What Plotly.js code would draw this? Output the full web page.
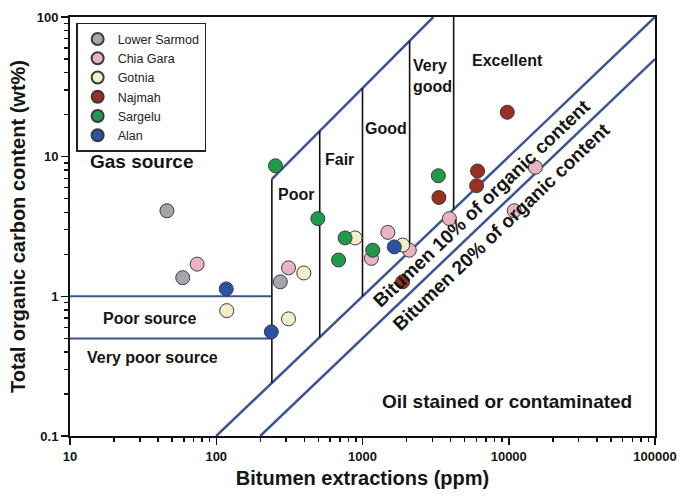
<!DOCTYPE html>
<html>
<head>
<meta charset="utf-8">
<script src="https://cdn.plot.ly/plotly-3.0.1.min.js"></script>
<style>html,body{margin:0;padding:0;background:#fff;}#chart{width:686px;height:500px;}</style>
</head>
<body>
<div id="chart"></div>
<script>
// ---- Data (Bitumen ppm, TOC wt%) ----
const lowerSarmodBit = [46, 59, 274];
const lowerSarmodTOC = [4.1, 1.36, 1.27];
const chiaGaraBit = [74, 312, 1490, 1150, 2090, 3930, 10900, 15200];
const chiaGaraTOC = [1.7, 1.6, 2.87, 1.87, 2.14, 3.6, 4.1, 8.4];
const gotniaBit = [118, 312, 397, 890, 1880];
const gotniaTOC = [0.79, 0.69, 1.47, 2.62, 2.33];
const najmahBit = [1880, 3330, 6120, 6030, 9770];
const najmahTOC = [1.27, 5.1, 7.9, 6.2, 20.8];
const sargeluBit = [254, 495, 760, 686, 1175, 3300];
const sargeluTOC = [8.6, 3.6, 2.62, 1.82, 2.14, 7.3];
const alanBit = [117, 238, 1650];
const alanTOC = [1.13, 0.557, 2.26];

const seriesNames = ["Lower Sarmod", "Chia Gara", "Gotnia", "Najmah", "Sargelu", "Alan"];

// ---- Classification boundaries ----
const classBounds = [240, 510, 1000, 2100, 4200];      // bitumen ppm of zone edges
const gasLineBit = [240, 3050];                          // upper (gas source) line
const gasLineTOC = [6.9, 100];
const oil10Bit = [100, 100000], oil10TOC = [0.1, 100];   // bitumen 10% of organic content
const oil20Bit = [200, 100000], oil20TOC = [0.1, 50];    // bitumen 20% of organic content
const poorTOC = [1, 0.5];                                // poor / very poor source limits
const poorBitRange = [10, 240];

// ---- Axis ticks ----
const xTickVals = [10, 100, 1000, 10000, 100000];
const xTickText = ["10", "100", "1000", "10000", "100000"];
const yTickVals = [0.1, 1, 10, 100];
const yTickText = ["0.1", "1", "10", "100"];

// ---- Styles ----
const colors = ["#a3a6aa", "#e8b4c4", "#f4eec6", "#9a3023", "#1f9a4c", "#2c50a3"];
const blueLine = "#3a5690";

function minorVals(lo, hi) {
  const out = [];
  for (let d = lo; d < hi; d++) for (let m = 2; m <= 9; m++) out.push(m * Math.pow(10, d));
  return out;
}

// vertical zone lines: from gas line (clipped at 100) down to 10% line
const lgA = Math.log10(gasLineBit[0]), lgB = Math.log10(gasLineBit[1]);
const ltA = Math.log10(gasLineTOC[0]), ltB = Math.log10(gasLineTOC[1]);
function gasTOC(b) {
  const t = ltA + (Math.log10(b) - lgA) * (ltB - ltA) / (lgB - lgA);
  return Math.min(100, Math.pow(10, t));
}
function oil10At(b) { return oil10TOC[0] * b / oil10Bit[0]; }
const vx = [], vy = [];
classBounds.forEach(b => { vx.push(b, b, null); vy.push(gasTOC(b), oil10At(b), null); });

const hx = [], hy = [];
poorTOC.forEach(t => { hx.push(poorBitRange[0], poorBitRange[1], null); hy.push(t, t, null); });

const traces = [
  {x: gasLineBit, y: gasLineTOC, mode: "lines", line: {color: blueLine, width: 2.5}, showlegend: false, hoverinfo: "skip"},
  {x: oil10Bit, y: oil10TOC, mode: "lines", line: {color: blueLine, width: 2.5}, showlegend: false, hoverinfo: "skip"},
  {x: oil20Bit, y: oil20TOC, mode: "lines", line: {color: blueLine, width: 2.5}, showlegend: false, hoverinfo: "skip"},
  {x: hx, y: hy, mode: "lines", line: {color: blueLine, width: 2}, showlegend: false, hoverinfo: "skip"},
  {x: vx, y: vy, mode: "lines", line: {color: "#111", width: 1.6}, showlegend: false, hoverinfo: "skip"}
];

const seriesX = [lowerSarmodBit, chiaGaraBit, gotniaBit, najmahBit, sargeluBit, alanBit];
const seriesY = [lowerSarmodTOC, chiaGaraTOC, gotniaTOC, najmahTOC, sargeluTOC, alanTOC];
seriesNames.forEach((n, i) => {
  traces.push({
    x: seriesX[i], y: seriesY[i], name: n, mode: "markers", type: "scatter",
    marker: {size: 14, color: colors[i], line: {color: "#3a3a3a", width: 1}}
  });
});

const bold = "Liberation Sans";
function ann(text, x, y, size, extra) {
  return Object.assign({text: text, x: x, y: y, xref: "x", yref: "y", showarrow: false,
    font: {family: bold, size: size, color: "#151515", weight: "bold"}}, extra || {});
}
const annotations = [
  ann("Gas source", 1.495, 0.968, 19),
  ann("Poor source", 1.546, -0.156, 16),
  ann("Very poor source", 1.567, -0.436, 16),
  ann("Poor", 2.546, 0.732, 16),
  ann("Fair", 2.843, 0.983, 16),
  ann("Good", 3.160, 1.205, 16),
  ann("Very<br>good", 3.334, 1.581, 16, {xanchor: "left", align: "left"}),
  ann("Excellent", 3.993, 1.685, 16),
  ann("Oil stained or contaminated", 3.986, -0.756, 19),
  ann("Bitumen 10% of organic content", 3.812, 0.668, 19, {textangle: -43.6}),
  ann("Bitumen 20% of organic content", 3.952, 0.498, 19, {textangle: -43.6})
];

const axisCommon = {
  type: "log", showgrid: false, zeroline: false, showline: true, linecolor: "#111", linewidth: 2,
  mirror: true, ticks: "outside", ticklen: 7, tickwidth: 1.5, tickcolor: "#111",
  tickfont: {family: bold, size: 13, color: "#151515", weight: "bold"}, tickmode: "array"
};

const layout = {
  width: 686, height: 500,
  margin: {l: 70, r: 31, t: 17, b: 64},
  paper_bgcolor: "#fff", plot_bgcolor: "#fff",
  font: {family: bold},
  xaxis: Object.assign({}, axisCommon, {
    range: [1, 5], tickvals: xTickVals, ticktext: xTickText,
    minor: {tickmode: "array", tickvals: minorVals(1, 5), ticks: "outside", ticklen: 4, tickwidth: 1.5, tickcolor: "#111"},
    title: {text: "Bitumen extractions (ppm)", font: {family: bold, size: 20, color: "#151515", weight: "bold"}, standoff: 8}
  }),
  yaxis: Object.assign({}, axisCommon, {
    range: [-1, 2], tickvals: yTickVals, ticktext: yTickText,
    minor: {tickmode: "array", tickvals: minorVals(-1, 2), ticks: "outside", ticklen: 4, tickwidth: 1.5, tickcolor: "#111"},
    title: {text: "Total organic carbon content (wt%)", font: {family: bold, size: 20, color: "#151515", weight: "bold"}, standoff: 6}
  }),
  legend: {
    x: 0.0105, y: 0.986, xanchor: "left", yanchor: "top",
    bgcolor: "#fff", bordercolor: "#222", borderwidth: 1.5,
    font: {family: bold, size: 12.5, color: "#222"}, itemsizing: "constant", itemwidth: 30,
    tracegroupgap: 0
  },
  annotations: annotations,
  showlegend: true
};

Plotly.newPlot("chart", traces, layout, {displayModeBar: false, staticPlot: true});
</script>
</body>
</html>
